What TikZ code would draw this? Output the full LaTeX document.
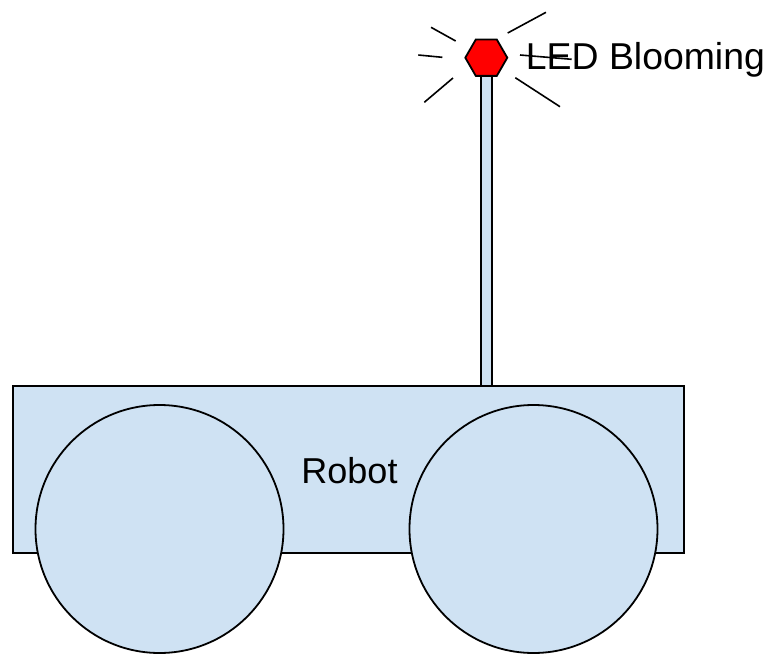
\documentclass[tikz,border=0pt]{standalone}
\usepackage{fontspec}
\setmainfont{Liberation Sans}
\usetikzlibrary{shapes.geometric}
\definecolor{bodyblue}{HTML}{CFE2F3}
\begin{document}
\begin{tikzpicture}[x=0.5pt,y=-0.5pt,
  outline/.style={draw=black,line width=0.9pt},
  part/.style={outline,fill=bodyblue,inner sep=0pt,outer sep=0pt},
  ray/.style={draw=black,line width=0.8pt},
  label/.style={inner sep=0pt,font=\fontsize{18}{21.6}\selectfont}]
\useasboundingbox (0,0) rectangle (768,654);
% body of the robot
\node[part,rectangle,minimum width=335.5pt,minimum height=83.5pt] (body) at (348.5,469.5) {};
% antenna pole
\draw[outline,fill=bodyblue] (481,76) rectangle (492,386);
% wheels
\node[part,circle,minimum size=124pt] (wheelL) at (159.5,529) {};
\node[part,circle,minimum size=124pt] (wheelR) at (533.5,529) {};
\node[label,anchor=base] (robot) at (349.5,483.3) {Robot};
% LED on top of the pole
\node[outline,fill=red,regular polygon,regular polygon sides=6,inner sep=0pt,minimum size=21pt] (led) at (486.3,57.7) {};
\node[label,anchor=base west,font=\fontsize{18.7}{22}\selectfont] (ledtext) at (525.5,69.3) {LED Blooming};
% glow rays around the LED
\draw[ray] (431,27.3) -- (455.7,41);
\draw[ray] (418.3,55) -- (442.3,57.3);
\draw[ray] (424.3,102.3) -- (453,78);
\draw[ray] (507.7,33) -- (546,12.3);
\draw[ray] (515.3,77.7) -- (560,106.7);
\draw[ray] (520,55) -- (571.7,59.3);
\end{tikzpicture}
\end{document}
